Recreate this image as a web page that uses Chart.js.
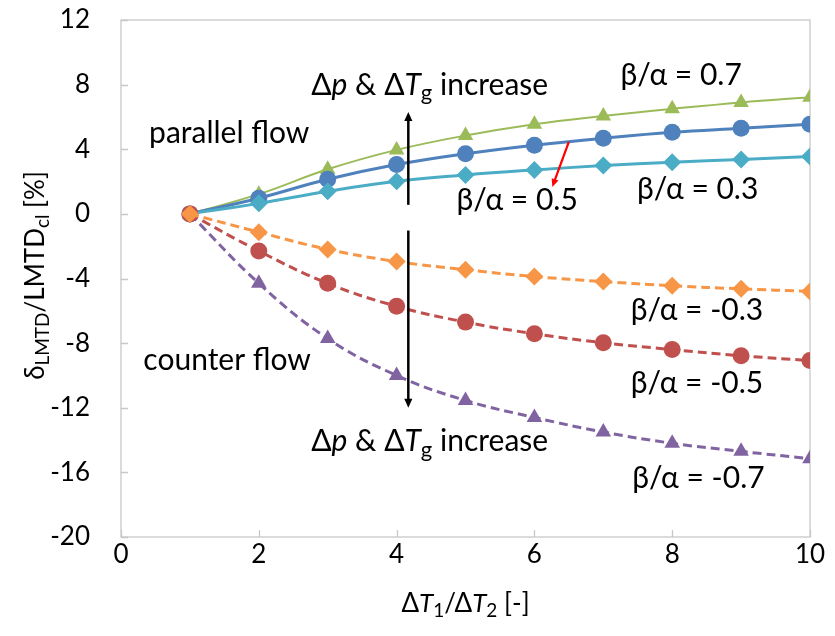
<!DOCTYPE html>
<html>
<head>
<meta charset="utf-8">
<script src="https://cdn.jsdelivr.net/npm/chart.js@4.4.1/dist/chart.umd.min.js"></script>
<style>
html,body{margin:0;padding:0;background:#fff;}
#wrap{width:835px;height:636px;position:relative;}
</style>
</head>
<body>
<div id="wrap"><canvas id="c" width="835" height="636"></canvas></div>
<script>
// ---- data ----
const xValues = [1, 2, 3, 4, 5, 6, 7, 8, 9, 10];
const pos07 = [0, 1.22, 2.76, 3.96, 4.85, 5.55, 6.06, 6.5, 6.9, 7.22];
const pos05 = [0, 0.97, 2.14, 3.05, 3.72, 4.25, 4.68, 5.05, 5.3, 5.55];
const pos03 = [0, 0.65, 1.4, 2.02, 2.41, 2.72, 2.99, 3.2, 3.36, 3.55];
const neg03 = [0, -1.13, -2.2, -2.95, -3.46, -3.88, -4.19, -4.45, -4.64, -4.8];
const neg05 = [0, -2.3, -4.3, -5.72, -6.7, -7.42, -7.98, -8.4, -8.78, -9.08];
const neg07 = [0, -4.3, -7.72, -10.0, -11.55, -12.6, -13.5, -14.2, -14.7, -15.15];
const seriesLabels = ['β/α = 0.7', 'β/α = 0.5', 'β/α = 0.3', 'β/α = -0.3', 'β/α = -0.5', 'β/α = -0.7'];
const xTicks = [0, 2, 4, 6, 8, 10];
const yTicks = [-20, -16, -12, -8, -4, 0, 4, 8, 12];

const FONT = 'Lato, "Open Sans", sans-serif';
const FS = 30;      // annotation text
const FT = 26;      // tick labels / axis titles

function pts(arr){ return xValues.map((x,i)=>({x:x, y:arr[i]})); }

function ds(label, arr, color, shape, radius, dashed, width, order){
  return {
    label: label, data: pts(arr),
    borderColor: color, backgroundColor: color,
    pointBackgroundColor: color, pointBorderColor: color,
    pointStyle: shape, pointRadius: radius, pointHoverRadius: radius,
    pointBorderWidth: 0,
    borderWidth: width, borderDash: dashed ? [9,5] : [],
    tension: 0.4, order: order, fill: false
  };
}

// annotation placement (in data coordinates)
const notes = [
  {parts:[{t:'parallel flow'}], x:1.57, y:5.0},
  {parts:[{t:'counter flow'}], x:1.54, y:-9.05},
  {parts:[{t:'β/α = 0.7'}], x:8.13, y:8.6},
  {parts:[{t:'β/α = 0.5'}], x:5.75, y:0.85},
  {parts:[{t:'β/α = 0.3'}], x:8.37, y:1.5},
  {parts:[{t:'β/α = -0.3'}], x:8.36, y:-5.94},
  {parts:[{t:'β/α = -0.5'}], x:8.36, y:-10.46},
  {parts:[{t:'β/α = -0.7'}], x:8.38, y:-16.34},
  {parts:[{t:'Δ'},{t:'p',it:true},{t:' & Δ'},{t:'T',it:true},{t:'g',sub:true},{t:' increase'}], x:4.48, y:7.98},
  {parts:[{t:'Δ'},{t:'p',it:true},{t:' & Δ'},{t:'T',it:true},{t:'g',sub:true},{t:' increase'}], x:4.48, y:-14.1}
];
const arrows = [
  {x1:4.17, y1:0.56, x2:4.17, y2:6.3, color:'#000', w:2.5, head:9},
  {x1:4.17, y1:-1.03, x2:4.17, y2:-12.0, color:'#000', w:2.5, head:9},
  {x1:6.5, y1:4.46, x2:6.26, y2:1.67, color:'#FF0000', w:2.2, head:8}
];

function fontStr(p, size){
  return (p.it ? 'italic ' : '') + (p.sub ? Math.round(size*0.72) : size) + 'px ' + FONT;
}
function measureRich(ctx, parts, size){
  let w = 0;
  parts.forEach(p=>{ ctx.font = fontStr(p,size); w += ctx.measureText(p.t).width; });
  return w;
}
function drawRich(ctx, parts, cx, cy, size){
  const w = measureRich(ctx, parts, size);
  let x = cx - w/2;
  ctx.textBaseline = 'middle';
  ctx.textAlign = 'left';
  parts.forEach(p=>{
    ctx.font = fontStr(p,size);
    ctx.fillText(p.t, x, cy + (p.sub ? size*0.26 : 0));
    x += ctx.measureText(p.t).width;
  });
}
function drawArrow(ctx, x1, y1, x2, y2, color, w, head){
  const a = Math.atan2(y2-y1, x2-x1);
  ctx.save();
  ctx.strokeStyle = color; ctx.fillStyle = color; ctx.lineWidth = w;
  ctx.beginPath();
  ctx.moveTo(x1,y1);
  ctx.lineTo(x2 - Math.cos(a)*head*0.8, y2 - Math.sin(a)*head*0.8);
  ctx.stroke();
  ctx.beginPath();
  ctx.moveTo(x2,y2);
  ctx.lineTo(x2 - Math.cos(a)*head + Math.sin(a)*head*0.45, y2 - Math.sin(a)*head - Math.cos(a)*head*0.45);
  ctx.lineTo(x2 - Math.cos(a)*head - Math.sin(a)*head*0.45, y2 - Math.sin(a)*head + Math.cos(a)*head*0.45);
  ctx.closePath();
  ctx.fill();
  ctx.restore();
}

const framePlugin = {
  id: 'frame',
  beforeDatasetsDraw(chart){
    const {ctx, chartArea:a, scales} = chart;
    ctx.save();
    ctx.strokeStyle = '#C8C8C8';
    ctx.lineWidth = 1.3;
    ctx.strokeRect(a.left, a.top, a.right-a.left, a.bottom-a.top);
    // inward ticks
    ctx.beginPath();
    yTicks.forEach(v=>{ const y = Math.round(scales.y.getPixelForValue(v))+0.5; ctx.moveTo(a.left, y); ctx.lineTo(a.left+7, y); });
    xTicks.forEach(v=>{ const x = Math.round(scales.x.getPixelForValue(v))+0.5; ctx.moveTo(x, a.bottom); ctx.lineTo(x, a.bottom-7); });
    ctx.stroke();
    ctx.restore();
  },
  afterDraw(chart){
    const {ctx, chartArea:a, scales} = chart;
    const X = v=>scales.x.getPixelForValue(v), Y = v=>scales.y.getPixelForValue(v);
    ctx.save();
    ctx.fillStyle = '#000';
    arrows.forEach(r=>drawArrow(ctx, X(r.x1), Y(r.y1), X(r.x2), Y(r.y2), r.color, r.w, r.head));
    notes.forEach(n=>drawRich(ctx, n.parts, X(n.x), Y(n.y), FS));
    // x axis title
    drawRich(ctx, [{t:'Δ'},{t:'T',it:true},{t:'1',sub:true},{t:'/Δ'},{t:'T',it:true},{t:'2',sub:true},{t:' [-]'}], (a.left+a.right)/2, 604, FT);
    // y axis title
    ctx.save();
    ctx.translate(36, (a.top+a.bottom)/2 - 3);
    ctx.rotate(-Math.PI/2);
    drawRich(ctx, [{t:'δ'},{t:'LMTD',sub:true},{t:'/LMTD'},{t:'cl',sub:true},{t:' [%]'}], 0, 0, FT);
    ctx.restore();
    ctx.restore();
  }
};

new Chart(document.getElementById('c'), {
  type: 'line',
  data: {
    datasets: [
      ds(seriesLabels[0], pos07, '#9BBB59', 'triangle', 9, false, 2, 6),
      ds(seriesLabels[1], pos05, '#4F81BD', 'circle', 8.5, false, 3, 5),
      ds(seriesLabels[2], pos03, '#4BACC6', 'rectRot', 9, false, 3, 4),
      ds(seriesLabels[3], neg03, '#F79646', 'rectRot', 9, true, 3, 1),
      ds(seriesLabels[4], neg05, '#C0504D', 'circle', 8.5, true, 3, 2),
      ds(seriesLabels[5], neg07, '#8064A2', 'triangle', 9, true, 3, 3)
    ]
  },
  options: {
    responsive: false, animation: false,
    layout: {padding: {top: 20, right: 25, left: 0, bottom: 0}},
    plugins: {legend: {display: false}, tooltip: {enabled: false}},
    scales: {
      x: {
        type: 'linear', min: 0, max: 10,
        afterBuildTicks: s=>{ s.ticks = xTicks.map(v=>({value:v})); },
        afterFit: s=>{ s.height = 99; },
        grid: {display: false, drawTicks: false},
        border: {display: false},
        ticks: {color: '#000', padding: 2, font: {family: FONT, size: FT}, maxRotation: 0}
      },
      y: {
        type: 'linear', min: -20, max: 12,
        afterBuildTicks: s=>{ s.ticks = yTicks.map(v=>({value:v})); },
        afterFit: s=>{ s.width = 121; s.paddingTop = 0; s.paddingBottom = 0; },
        grid: {display: false, drawTicks: false},
        border: {display: false},
        ticks: {color: '#000', padding: 31, font: {family: FONT, size: FT}}
      }
    }
  },
  plugins: [framePlugin]
});
</script>
</body>
</html>
